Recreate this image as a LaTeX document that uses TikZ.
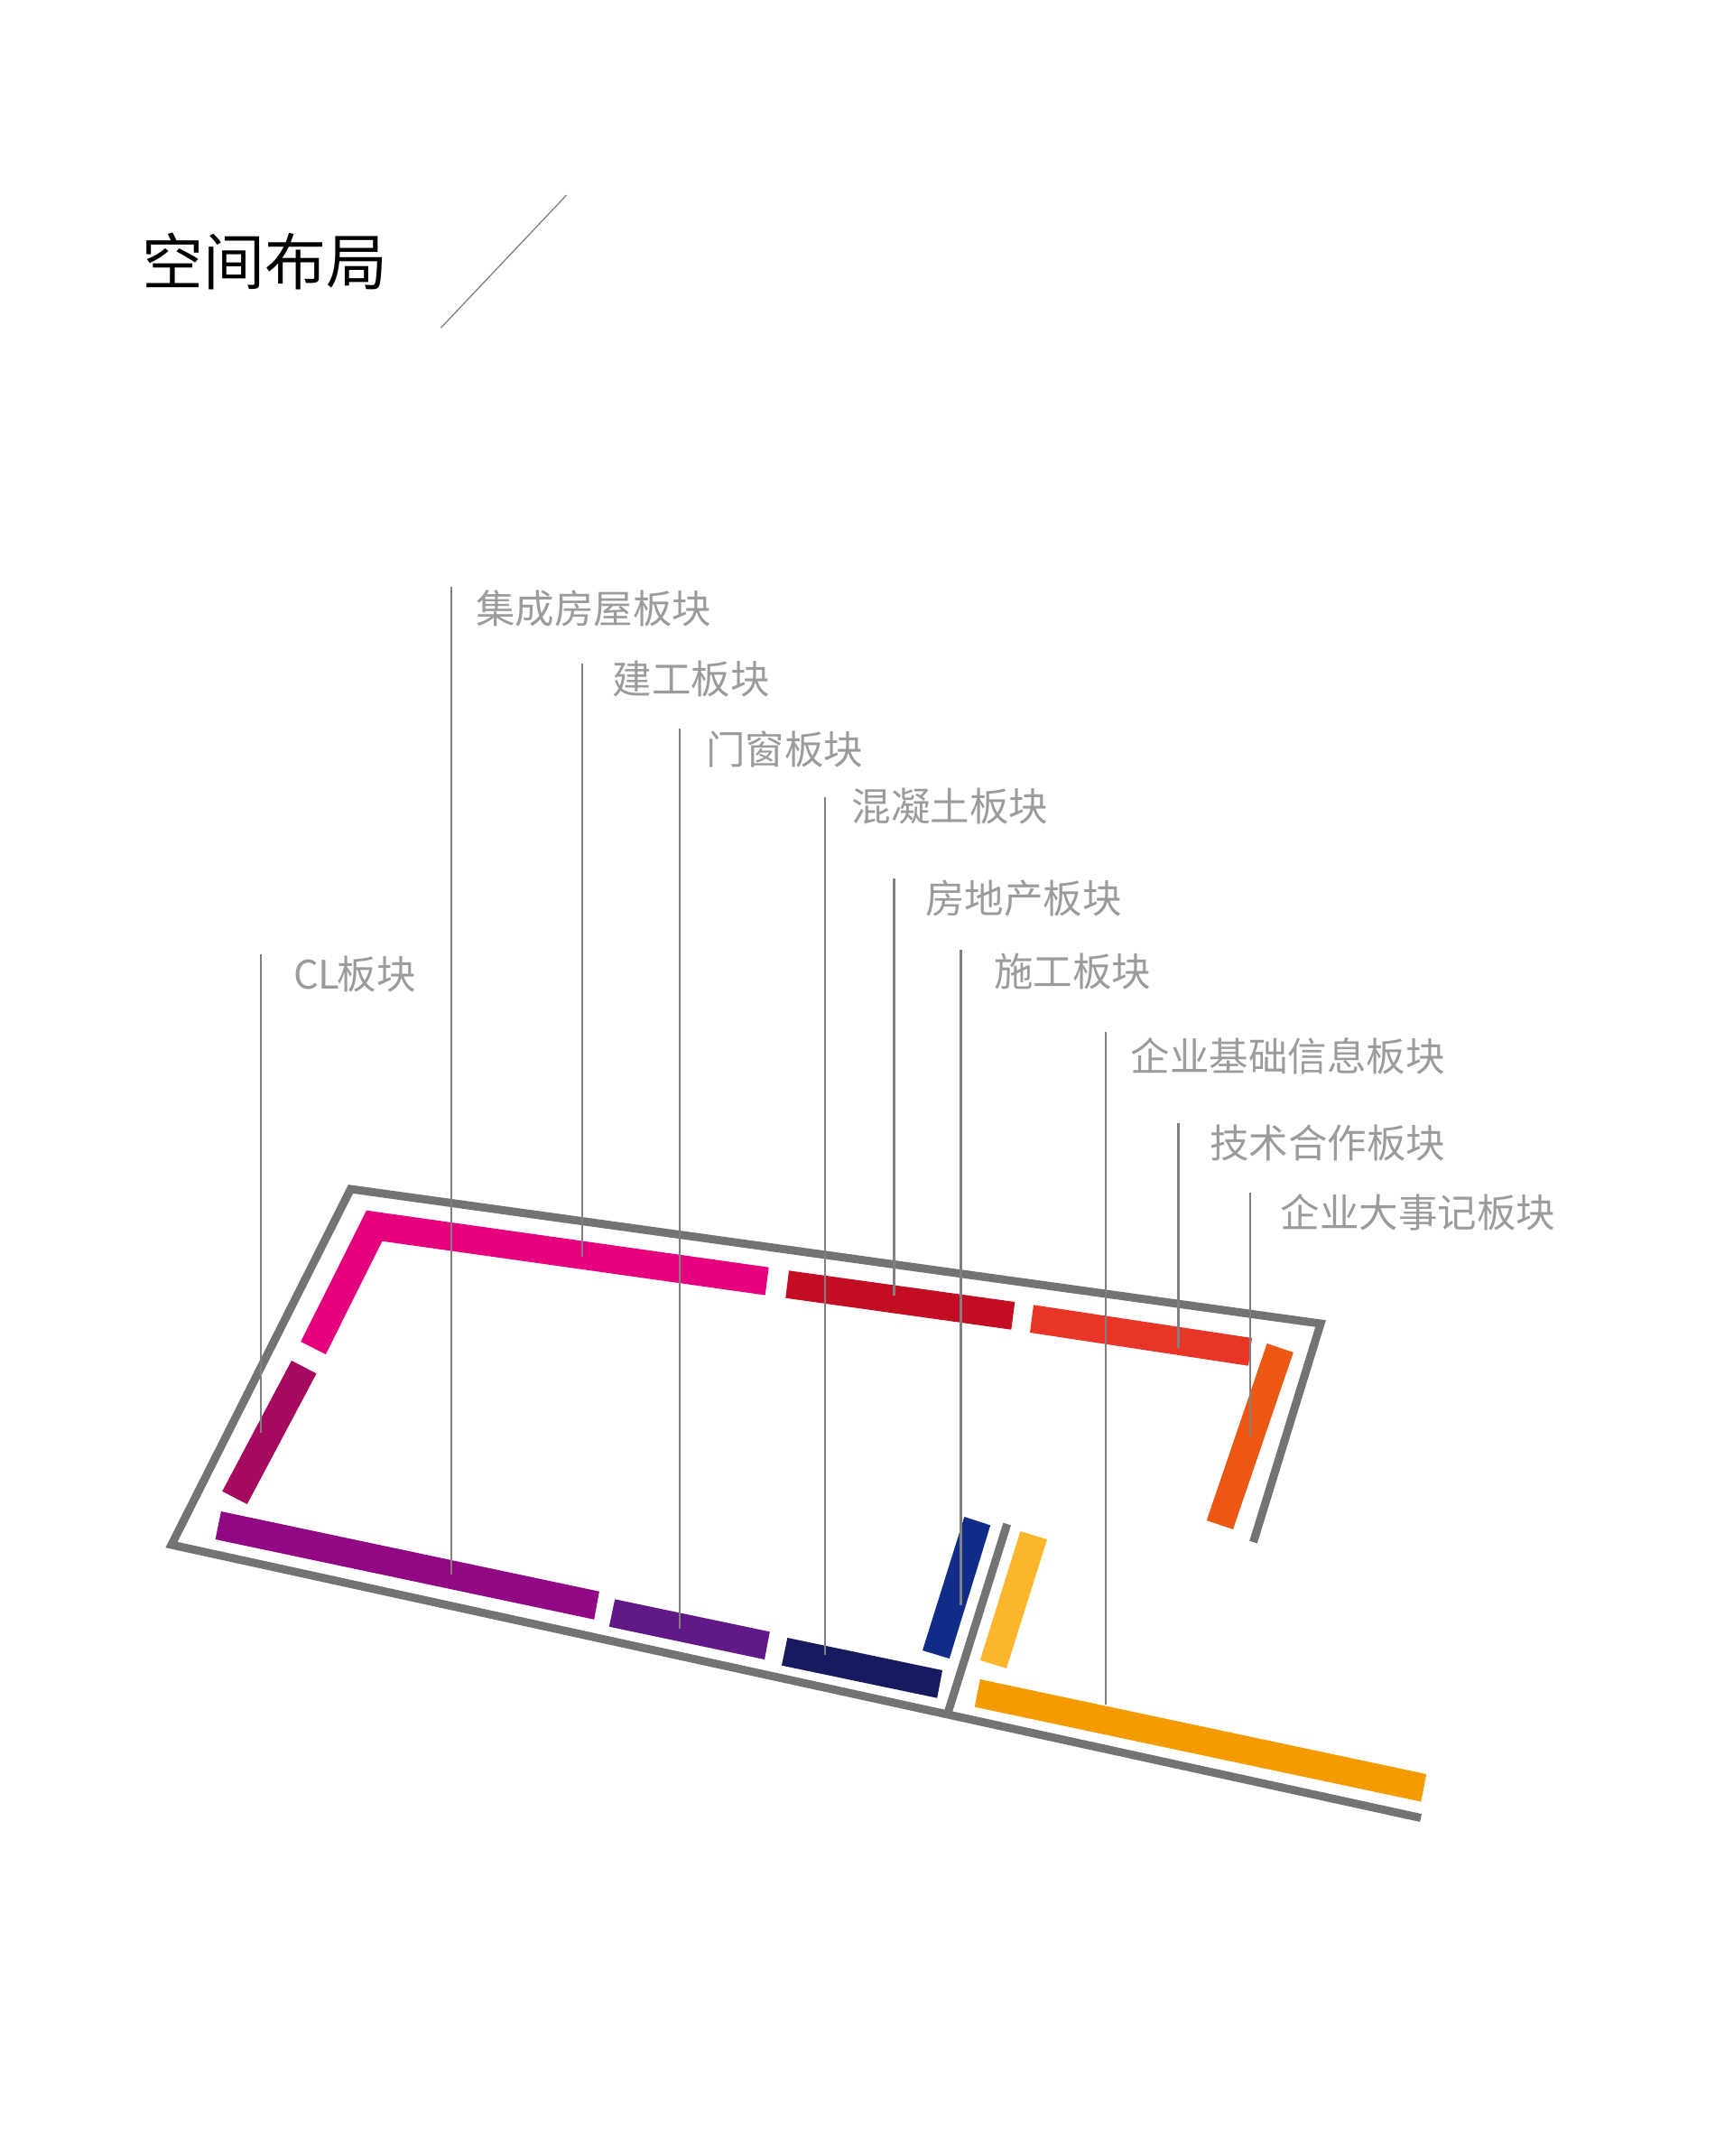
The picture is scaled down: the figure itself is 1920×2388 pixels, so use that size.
\documentclass[tikz,border=0pt]{standalone}
\usepackage{fontspec}
\usepackage{xcolor}
\usetikzlibrary{calc,positioning}
\newfontfamily\cjk{Noto Sans CJK SC}
\definecolor{framegray}{RGB}{115,115,115}
\definecolor{leadgray}{RGB}{128,128,128}
\definecolor{labelgray}{RGB}{155,155,155}
\definecolor{pinkbar}{RGB}{230,0,126}
\definecolor{rosebar}{RGB}{165,10,94}
\definecolor{purplebar}{RGB}{146,7,131}
\definecolor{violetbar}{RGB}{96,25,134}
\definecolor{navybar}{RGB}{22,26,94}
\definecolor{bluebar}{RGB}{17,43,136}
\definecolor{crimsonbar}{RGB}{195,13,35}
\definecolor{redbar}{RGB}{233,52,40}
\definecolor{tangbar}{RGB}{236,87,18}
\definecolor{goldbar}{RGB}{251,182,44}
\definecolor{amberbar}{RGB}{245,154,0}

\begin{document}
\begin{tikzpicture}[x=1pt,y=-1pt,
      frameln/.style={draw=framegray,line width=9pt,line join=miter},
      lead/.style={draw=leadgray,line width=2.2pt},
      lbl/.style={anchor=base west,inner sep=0pt,text=labelgray,font=\cjk\fontsize{43.5}{43.5}\selectfont}]
    \useasboundingbox (0,0) rectangle (1920,2388);
    \node[anchor=base west,inner sep=0pt,font=\cjk\fontsize{68}{68}\selectfont] (title) at (157,315) {空间布局};
    \coordinate (slashA) at (488.3,363.3);
    \coordinate (slashB) at (627.7,216);
    \draw[leadgray,line width=1.3pt] (slashA)--(slashB);

    \draw[frameln] (1388.5,1708)--(1463,1466)--(388.5,1317)--(190,1711)--(1574,2013.5);
    \draw[frameln] (1115.7,1688)--(1049.5,1899);

    \fill[pinkbar] (406,1340.7)--(851.7,1403.7)--(847.7,1434.5)--(423.4,1374.7)--(360.9,1500)--(333.2,1486)--cycle;
    \fill[rosebar] (323,1507)--(350.6,1521.3)--(273.8,1666)--(246.2,1651.7)--cycle;
    \fill[purplebar] (244.9,1674)--(663.9,1762.7)--(658.2,1793.7)--(238.6,1705)--cycle;
    \fill[violetbar] (681.2,1771.3)--(852.8,1807.3)--(847,1838)--(674.8,1801.7)--cycle;
    \fill[navybar] (872.3,1814)--(1044,1850)--(1038.2,1880.7)--(866,1844.7)--cycle;
    \fill[bluebar] (1068.4,1680)--(1097.2,1689.4)--(1051.8,1837)--(1022,1828)--cycle;
    \fill[goldbar] (1130.4,1696)--(1160,1705)--(1115,1847.8)--(1085.8,1838.8)--cycle;
    \fill[amberbar] (1085.8,1860)--(1580.2,1965)--(1574.3,1995.5)--(1079.8,1890.6)--cycle;
    \fill[tangbar] (1403.6,1488)--(1432.8,1498)--(1366,1693.9)--(1336.8,1684)--cycle;
    \fill[redbar] (1145,1445.3)--(1387,1482)--(1383,1512.7)--(1141,1476)--cycle;
    \fill[crimsonbar] (874,1407.3)--(1124.3,1442)--(1120.3,1472.7)--(870.3,1437.7)--cycle;

    \node[lbl] (cl) at (325,1095.5) {CL\kern-3pt 板块};
    \node[lbl] (jicheng) at (527,690.5) {集成房屋板块};
    \node[lbl] (jiangong) at (678.5,768.5) {建工板块};
    \node[lbl] (menchuang) at (782,846.5) {门窗板块};
    \node[lbl] (hunningtu) at (943.5,909.5) {混凝土板块};
    \node[lbl] (fangdichan) at (1025,1011.5) {房地产板块};
    \node[lbl] (shigong) at (1101,1092.5) {施工板块};
    \node[lbl] (jichu) at (1252.5,1186.5) {企业基础信息板块};
    \node[lbl] (jishu) at (1340,1282.5) {技术合作板块};
    \node[lbl] (dashiji) at (1418.5,1359.5) {企业大事记板块};

    \coordinate (clT) at (288.6,1057);
    \coordinate (clB) at (288.6,1586.7);
    \coordinate (jichengT) at (499.7,650);
    \coordinate (jichengB) at (499.7,1744);
    \coordinate (jiangongT) at (644.8,735);
    \coordinate (jiangongB) at (644.8,1391.7);
    \coordinate (menchuangT) at (752.9,806.7);
    \coordinate (menchuangB) at (752.9,1804);
    \coordinate (hunningtuT) at (914,883.3);
    \coordinate (hunningtuB) at (914,1832.7);
    \coordinate (fangdichanT) at (990.4,973.3);
    \coordinate (fangdichanB) at (990.4,1435.3);
    \coordinate (shigongT) at (1064.5,1052.3);
    \coordinate (shigongB) at (1064.5,1777.5);
    \coordinate (jichuT) at (1224.6,1142.7);
    \coordinate (jichuB) at (1224.6,1887.8);
    \coordinate (jishuT) at (1305.5,1244);
    \coordinate (jishuB) at (1305.5,1493);
    \coordinate (dashijiT) at (1384.6,1321);
    \coordinate (dashijiB) at (1384.6,1590.6);
    \draw[lead] (clT)--(clB);
    \draw[lead] (jichengT)--(jichengB);
    \draw[lead] (jiangongT)--(jiangongB);
    \draw[lead] (menchuangT)--(menchuangB);
    \draw[lead] (hunningtuT)--(hunningtuB);
    \draw[lead] (fangdichanT)--(fangdichanB);
    \draw[lead] (shigongT)--(shigongB);
    \draw[lead] (jichuT)--(jichuB);
    \draw[lead] (jishuT)--(jishuB);
    \draw[lead] (dashijiT)--(dashijiB);
\end{tikzpicture}
\end{document}
